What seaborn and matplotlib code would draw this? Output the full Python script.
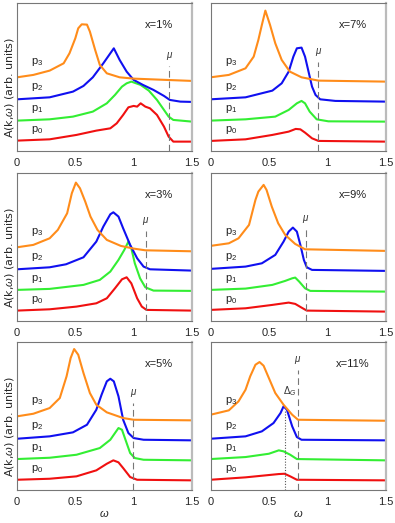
import pandas as pd
import numpy as np
import matplotlib
matplotlib.use("Agg")
import matplotlib.pyplot as plt
import seaborn as sns

sns.set_style("white")
plt.rcParams["font.family"] = ["Liberation Sans", "DejaVu Sans"]
plt.rcParams["mathtext.fontset"] = "custom"
plt.rcParams["mathtext.rm"] = "Liberation Sans"
plt.rcParams["mathtext.it"] = "Liberation Sans:italic"

# spectra, A in arbitrary units (offset curves p0..p3)
# x = 1%
x1_p3_w = [0, 0.14, 0.28, 0.4, 0.45, 0.5, 0.525, 0.555, 0.6, 0.625, 0.67, 0.71, 0.77, 0.88, 1.0, 1.28, 1.5]
x1_p3_a = [73.3, 75.7, 80, 87.3, 97.3, 112.3, 122.3, 126.3, 126, 119, 100.7, 85.7, 77.3, 73.3, 72, 70.7, 69.7]
x1_p2_w = [0, 0.28, 0.48, 0.57, 0.65, 0.74, 0.83, 0.88, 0.94, 1.0, 1.08, 1.17, 1.26, 1.31, 1.4, 1.5]
x1_p2_a = [51.3, 53.3, 59, 64.7, 73.3, 87.3, 102.3, 90.7, 79, 70.7, 65.7, 60.7, 54.7, 50.7, 49, 48.7]
x1_p1_w = [0, 0.28, 0.48, 0.65, 0.77, 0.84, 0.9, 0.94, 0.98, 1.06, 1.13, 1.2, 1.26, 1.3, 1.34, 1.5]
x1_p1_a = [30, 31.3, 34, 39, 47.3, 55.7, 64, 67.3, 69, 65.7, 60, 50.7, 40.7, 34, 30.7, 29]
x1_p0_w = [0, 0.28, 0.51, 0.68, 0.8, 0.855, 0.91, 0.955, 1.0, 1.03, 1.06, 1.1, 1.14, 1.2, 1.26, 1.3, 1.34, 1.5]
x1_p0_a = [10, 11.3, 15.7, 20, 22.3, 27.3, 35.7, 43.3, 44.7, 44, 47.3, 44, 42.3, 35.7, 24, 14, 9, 9]

# x = 7%
x7_p3_w = [0, 0.157, 0.3, 0.37, 0.41, 0.44, 0.47, 0.51, 0.555, 0.61, 0.68, 0.78, 0.925, 1.5]
x7_p3_a = [73.3, 75.7, 82.3, 94, 110.7, 125.7, 140, 125.7, 107.3, 90.7, 79, 73.3, 70, 69]
x7_p2_w = [0, 0.3, 0.53, 0.61, 0.67, 0.71, 0.74, 0.78, 0.81, 0.84, 0.87, 0.9, 0.94, 1.07, 1.5]
x7_p2_a = [51.3, 53.3, 60, 67.3, 79, 94, 102.3, 103, 94, 79, 64, 55.7, 51.3, 49.7, 49]
x7_p1_w = [0, 0.3, 0.555, 0.67, 0.74, 0.78, 0.81, 0.85, 0.91, 1.01, 1.5]
x7_p1_a = [30, 31.3, 34, 40.7, 47.3, 49.7, 47.3, 39, 31.3, 29.3, 29]
x7_p0_w = [0, 0.3, 0.53, 0.67, 0.73, 0.77, 0.81, 0.87, 0.925, 1.5]
x7_p0_a = [9.7, 11.3, 15.7, 19, 21.7, 21.3, 18, 12.3, 9.7, 9]

# x = 3%
x3_p3_w = [0, 0.14, 0.28, 0.35, 0.43, 0.47, 0.505, 0.54, 0.585, 0.63, 0.69, 0.77, 0.89, 1.0, 1.1, 1.5]
x3_p3_a = [73.3, 75.7, 82.3, 90.7, 107.3, 127.3, 138, 132.3, 119, 104, 90.7, 80.7, 74.7, 72, 70.3, 69.3]
x3_p2_w = [0, 0.28, 0.42, 0.57, 0.68, 0.74, 0.8, 0.826, 0.87, 0.91, 0.97, 1.03, 1.085, 1.14, 1.5]
x3_p2_a = [51.3, 53.3, 56.3, 63.3, 79, 94, 106.3, 108.3, 104, 92.3, 75.7, 62.3, 54, 51.3, 50]
x3_p1_w = [0, 0.28, 0.57, 0.71, 0.8, 0.87, 0.92, 0.955, 0.98, 1.01, 1.055, 1.1, 1.17, 1.5]
x3_p1_a = [30.7, 31.7, 35.7, 40.7, 49, 60.7, 70.7, 79, 72.3, 57.3, 42.3, 33.3, 30, 29.7]
x3_p0_w = [0, 0.28, 0.51, 0.68, 0.77, 0.84, 0.9, 0.94, 0.98, 1.03, 1.07, 1.11, 1.5]
x3_p0_a = [10, 11.3, 14, 17.3, 22.3, 32.3, 41.3, 43.3, 37.3, 22.3, 14, 10.7, 10]

# x = 9%
x9_p3_w = [0, 0.157, 0.24, 0.33, 0.385, 0.41, 0.455, 0.48, 0.525, 0.58, 0.64, 0.725, 0.81, 1.5]
x9_p3_a = [74.7, 77.3, 82.3, 95.7, 120.7, 129, 135.7, 130.7, 114, 97.3, 85.7, 76.7, 71.3, 69.7]
x9_p2_w = [0, 0.3, 0.44, 0.555, 0.626, 0.67, 0.706, 0.74, 0.77, 0.8, 0.825, 0.87, 1.5]
x9_p2_a = [51.7, 54, 57.3, 65.7, 79, 89, 93, 89, 75.7, 60.7, 53.3, 50.7, 49.7]
x9_p1_w = [0, 0.3, 0.53, 0.64, 0.7, 0.726, 0.76, 0.81, 0.855, 1.5]
x9_p1_a = [30.7, 32, 35.7, 39.7, 42.3, 43, 39, 32.3, 29.7, 29]
x9_p0_w = [0, 0.3, 0.53, 0.67, 0.726, 0.78, 0.825, 1.5]
x9_p0_a = [10.7, 12.3, 15.7, 18, 16.7, 13, 10, 9]

# x = 5%
x5_p3_w = [0, 0.14, 0.28, 0.367, 0.425, 0.46, 0.49, 0.525, 0.57, 0.625, 0.68, 0.77, 0.91, 1.0, 1.5]
x5_p3_a = [73.7, 76.3, 82, 92, 113.7, 132, 141, 135.3, 117, 97, 85.3, 77.7, 72, 70.3, 69.7]
x5_p2_w = [0, 0.28, 0.48, 0.6, 0.68, 0.725, 0.77, 0.8, 0.83, 0.87, 0.91, 0.955, 1.0, 1.085, 1.5]
x5_p2_a = [51.3, 53.7, 57.7, 65.3, 80.3, 95.3, 108.7, 111.3, 108.7, 93.7, 70.3, 57, 52, 50.3, 49.7]
x5_p1_w = [0, 0.28, 0.51, 0.71, 0.8, 0.84, 0.87, 0.9, 0.93, 0.97, 1.01, 1.085, 1.5]
x5_p1_a = [31, 32.3, 35.3, 42, 50.3, 57, 62, 60.3, 50.3, 37, 32, 30.3, 29.7]
x5_p0_w = [0, 0.28, 0.51, 0.68, 0.77, 0.826, 0.87, 0.91, 0.97, 1.03, 1.5]
x5_p0_a = [10.3, 11.3, 13.7, 19.7, 26.3, 29.7, 27.7, 22, 13, 10.3, 9.7]

# x = 11%
x11_p3_w = [0, 0.157, 0.24, 0.3, 0.34, 0.385, 0.42, 0.455, 0.5, 0.555, 0.626, 0.7, 0.75, 1.5]
x11_p3_a = [75.3, 79.7, 88.7, 100.3, 113.7, 125.3, 128, 124.3, 112, 97, 85.3, 75.3, 70.3, 69.3]
x11_p2_w = [0, 0.3, 0.44, 0.54, 0.6, 0.626, 0.655, 0.7, 0.74, 0.78, 1.5]
x11_p2_a = [51.3, 53.7, 58.7, 67, 77, 83.7, 80.3, 63.7, 53, 50.3, 49.7]
x11_p1_w = [0, 0.3, 0.5, 0.585, 0.626, 0.683, 0.74, 1.5]
x11_p1_a = [31, 33, 36.3, 39.7, 38.7, 35.3, 31, 29.7]
x11_p0_w = [0, 0.3, 0.585, 0.635, 0.683, 0.74, 1.5]
x11_p0_a = [10.3, 12.7, 16, 16.3, 13.7, 10.3, 9.7]

panel_labels = ["x=1%", "x=7%", "x=3%", "x=9%", "x=5%", "x=11%"]
mu_pos = [1.305, 0.925, 1.104, 0.82, 0.998, 0.746]
mu_top = [85, 89, 90, 92, 87, 120]
delta_g = 0.635   # only in the x=11% panel

curve_names = ["p0", "p1", "p2", "p3"]
curve_labels = ["p$_0$", "p$_1$", "p$_2$", "p$_3$"]
curve_label_y = [21, 42, 64, 89]
palette = {"p0": "#f01010", "p1": "#33ee33", "p2": "#1010f0", "p3": "#ff8c1a"}

panels = [
    [(x1_p0_w, x1_p0_a), (x1_p1_w, x1_p1_a), (x1_p2_w, x1_p2_a), (x1_p3_w, x1_p3_a)],
    [(x7_p0_w, x7_p0_a), (x7_p1_w, x7_p1_a), (x7_p2_w, x7_p2_a), (x7_p3_w, x7_p3_a)],
    [(x3_p0_w, x3_p0_a), (x3_p1_w, x3_p1_a), (x3_p2_w, x3_p2_a), (x3_p3_w, x3_p3_a)],
    [(x9_p0_w, x9_p0_a), (x9_p1_w, x9_p1_a), (x9_p2_w, x9_p2_a), (x9_p3_w, x9_p3_a)],
    [(x5_p0_w, x5_p0_a), (x5_p1_w, x5_p1_a), (x5_p2_w, x5_p2_a), (x5_p3_w, x5_p3_a)],
    [(x11_p0_w, x11_p0_a), (x11_p1_w, x11_p1_a), (x11_p2_w, x11_p2_a), (x11_p3_w, x11_p3_a)],
]

fig = plt.figure(figsize=(3.95, 5.23), dpi=100)
col_x = [0.043, 0.533]
row_y = [0.712, 0.387, 0.063]
w_ax, h_ax = 0.443, 0.283

for i, curves in enumerate(panels):
    r, c = divmod(i, 2)
    ax = fig.add_axes([col_x[c], row_y[r], w_ax, h_ax])

    rows = []
    for name, (w, a) in zip(curve_names, curves):
        rows.append(pd.DataFrame({"w": w, "A": a, "curve": name}))
    df = pd.concat(rows, ignore_index=True)
    sns.lineplot(data=df, x="w", y="A", hue="curve", palette=palette, sort=False,
                 estimator=None, legend=False, lw=1.5, ax=ax)

    ax.plot([mu_pos[i], mu_pos[i]], [0, mu_top[i]], ls=(0, (6, 3.5)), color="#777777", lw=0.8)
    ax.text(mu_pos[i], mu_top[i] + 4, r"$\mu$", ha="center", va="bottom", fontsize=7, color="#333333")
    if i == 5:
        ax.plot([delta_g, delta_g], [0, 80], ls=(0, (1, 1.5)), color="#555555", lw=0.8)
        ax.text(delta_g + 0.045, 92, r"$\Delta_G$", ha="center", va="bottom", fontsize=7, color="#333333")

    for lab, ly in zip(curve_labels, curve_label_y):
        ax.text(0.12, ly, lab, fontsize=8, va="center", ha="left", color="#222222")
    ax.text(1.22, 126, panel_labels[i], fontsize=8, ha="center", va="center", color="#222222")

    ax.set_xlim(0, 1.5)
    ax.set_ylim(0, 148)
    ax.set_xticks([0, 0.5, 1, 1.5])
    ax.set_xticklabels(["0", "0.5", "1", "1.5"])
    ax.set_yticks([])
    ax.tick_params(axis="x", direction="in", length=2, width=0.6, color="#888888",
                   labelsize=8, pad=5)
    for side, sp in ax.spines.items():
        sp.set_color("#777777")
        sp.set_linewidth(0.8)
    ax.spines["right"].set_color("#bbbbbb")
    ax.spines["right"].set_linewidth(1.6)

    ax.set_xlabel(r"$\omega$" if r == 2 else "", fontsize=8, labelpad=1)
    if c == 0:
        ax.set_ylabel(r"A(k,$\omega$) (arb. units)", fontsize=8, family="DejaVu Sans")
        ax.yaxis.set_label_coords(-0.008, 0.43)
    else:
        ax.set_ylabel("")

fig.savefig("out.png", dpi=100)
